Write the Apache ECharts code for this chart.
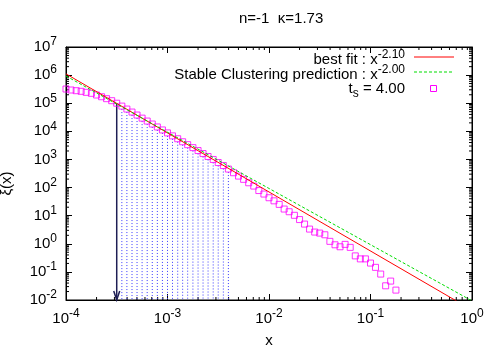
<!DOCTYPE html>
<html><head><meta charset="utf-8">
<script src="https://cdn.jsdelivr.net/npm/echarts@6/dist/echarts.min.js"></script>
<style>html,body{margin:0;padding:0;background:#fff}#c{width:500px;height:350px}</style>
</head><body><div id="c"></div>
<script>
// ---- data ----
const xVals = [
  1.00e-4,1.12e-4,1.26e-4,1.41e-4,1.58e-4,1.78e-4,2.00e-4,2.24e-4,2.51e-4,2.82e-4,
  3.16e-4,3.55e-4,3.98e-4,4.47e-4,5.01e-4,5.62e-4,6.31e-4,7.08e-4,7.94e-4,8.91e-4,
  1.00e-3,1.12e-3,1.26e-3,1.41e-3,1.58e-3,1.78e-3,2.00e-3,2.24e-3,2.51e-3,2.82e-3,
  3.16e-3,3.55e-3,3.98e-3,4.47e-3,5.01e-3,5.62e-3,6.31e-3,7.08e-3,7.94e-3,8.91e-3,
  1.00e-2,1.12e-2,1.26e-2,1.41e-2,1.58e-2,1.78e-2,2.00e-2,2.24e-2,2.51e-2,2.82e-2,
  3.16e-2,3.55e-2,3.98e-2,4.47e-2,5.01e-2,5.62e-2,6.31e-2,7.08e-2,7.94e-2,8.91e-2,
  1.00e-1,1.12e-1,1.26e-1,1.41e-1,1.58e-1,1.78e-1
];
const xiVals = [
  3.20e5,2.95e5,2.79e5,2.65e5,2.44e5,2.25e5,1.96e5,1.70e5,1.45e5,1.23e5,
  1.00e5,7.90e4,6.20e4,4.85e4,3.80e4,2.95e4,2.32e4,1.82e4,1.43e4,1.12e4,
  8.80e3,6.90e3,5.45e3,4.25e3,3.35e3,2.63e3,2.07e3,1.62e3,1.27e3,1.00e3,
  776,607,455,337,256,196,148,113,78.2,58.7,
  43.4,33.7,25.2,17.2,13.8,10.3,7.26,5.02,3.33,2.61,
  2.40,2.09,1.22,0.920,0.782,0.953,0.745,0.371,0.290,0.290,
  0.206,0.145,0.0836,0.0320,0.0471,0.0225
];
const fitExponent = -2.10, fitAmplitude = 0.0044;
const scExponent = -2.00, scAmplitude = 0.0093;
const lineX = [1e-4, 1];
const arrowIndex = 10;          // x = 3.16e-4
const dropFirst = 11, dropLast = 32;
const xRange = [1e-4, 1];
const yRange = [1e-2, 1e7];
const minorMantissas = [2,3,4,5,6,7,8,9];
const xDecades = [-4,-3,-2,-1];
const yDecades = [-2,-1,0,1,2,3,4,5,6];
const titleText = 'n=-1  \u03ba=1.73';
const legendFit = {main:'best fit : x', sup:'-2.10'};
const legendSC = {main:'Stable Clustering prediction : x', sup:'-2.00'};
const legendPts = {t:'t', sub:'s', rest:' = 4.00'};

// ---- derived ----
const points = xVals.map((x,i)=>[x, xiVals[i]]);
const fitLine = lineX.map(x=>[x, fitAmplitude*Math.pow(x, fitExponent)]);
const scLine = lineX.map(x=>[x, scAmplitude*Math.pow(x, scExponent)]);
const drops = points.slice(dropFirst, dropLast+1);
const arrowPt = [points[arrowIndex]];
const xMinor = [], yMinor = [];
xDecades.forEach(d=>minorMantissas.forEach(m=>xMinor.push([m*Math.pow(10,d), 1])));
yDecades.forEach(d=>minorMantissas.forEach(m=>yMinor.push([1e-2, m*Math.pow(10,d)])));

const FONT = 'Liberation Sans';
const RED = '#ff0000', GREEN = '#00dd00', MAG = '#ff00ff';
const rich = {
  b:{fontSize:15, fontFamily:FONT, color:'#000'},
  s:{fontSize:12, fontFamily:FONT, color:'#000', padding:[0,0,10,0]}
};
function expLabel(v){
  const e = Math.round(Math.log10(v));
  return '{b|10}{s|' + e + '}';
}

const chart = echarts.init(document.getElementById('c'), null, {renderer:'canvas'});
const axisCommon = {
  type:'log', logBase:10, interval:1,
  axisLine:{show:true, lineStyle:{color:'#000', width:1}},
  axisTick:{show:true, inside:true, length:6, lineStyle:{color:'#000'}},
  splitLine:{show:false}, minorTick:{show:false}
};
chart.setOption({
  animation:false,
  backgroundColor:'#fff',
  title:{text:titleText, left:234, top:6,
    textStyle:{fontFamily:FONT, fontSize:15, fontWeight:'normal', color:'#000'}},
  grid:{left:66, right:28, top:47, bottom:50, show:true, borderColor:'#000', borderWidth:1,
    outerBoundsMode:'none', containLabel:false},
  xAxis:[
    Object.assign({}, axisCommon, {min:xRange[0], max:xRange[1], position:'bottom',
      name:'x', nameLocation:'middle', nameGap:33,
      nameTextStyle:{fontFamily:FONT, fontSize:15, color:'#000'},
      axisLabel:{margin:8, formatter:expLabel, rich:rich}}),
    Object.assign({}, axisCommon, {min:xRange[0], max:xRange[1], position:'top',
      axisLabel:{show:false}})
  ],
  yAxis:[
    Object.assign({}, axisCommon, {min:yRange[0], max:yRange[1], position:'left',
      name:'\u03be(x)', nameLocation:'middle', nameGap:52,
      nameTextStyle:{fontFamily:FONT, fontSize:15, color:'#000', padding:[0,20,0,0]},
      axisLabel:{margin:9, formatter:expLabel, rich:rich}}),
    Object.assign({}, axisCommon, {min:yRange[0], max:yRange[1], position:'right',
      axisLabel:{show:false}})
  ],
  series:[
    {type:'custom', name:'xminor', data:xMinor, silent:true,
      renderItem:(params, api)=>{
        const x = api.coord([api.value(0), 1])[0];
        const cs = params.coordSys;
        return {type:'group', children:[
          {type:'line', shape:{x1:x,y1:cs.y+cs.height,x2:x,y2:cs.y+cs.height-3}, style:{stroke:'#000',lineWidth:1}},
          {type:'line', shape:{x1:x,y1:cs.y,x2:x,y2:cs.y+3}, style:{stroke:'#000',lineWidth:1}}
        ]};
      }},
    {type:'custom', name:'yminor', data:yMinor, silent:true,
      renderItem:(params, api)=>{
        const y = api.coord([1e-2, api.value(1)])[1];
        const cs = params.coordSys;
        return {type:'group', children:[
          {type:'line', shape:{x1:cs.x,y1:y,x2:cs.x+3,y2:y}, style:{stroke:'#000',lineWidth:1}},
          {type:'line', shape:{x1:cs.x+cs.width,y1:y,x2:cs.x+cs.width-3,y2:y}, style:{stroke:'#000',lineWidth:1}}
        ]};
      }},
    {type:'custom', name:'drops', data:drops, silent:true,
      renderItem:(params, api)=>{
        const p1 = api.coord([api.value(0), api.value(1)]);
        const p2 = api.coord([api.value(0), yRange[0]]);
        return {type:'line', shape:{x1:p1[0],y1:p1[1]+3,x2:p2[0],y2:p2[1]},
          style:{stroke:'#3a3aff', lineWidth:1, lineDash:[1,2]}};
      }},
    {type:'custom', name:'arrow', data:arrowPt, silent:true,
      renderItem:(params, api)=>{
        const p1 = api.coord([api.value(0), api.value(1)]);
        const p2 = api.coord([api.value(0), yRange[0]]);
        return {type:'group', children:[
          {type:'line', shape:{x1:p1[0],y1:p1[1],x2:p2[0],y2:p2[1]}, style:{stroke:'#1e1e55',lineWidth:1.5}},
          {type:'polyline', shape:{points:[[p2[0]-3,p2[1]-9],[p2[0],p2[1]],[p2[0]+3,p2[1]-9]]},
            style:{stroke:'#1e1e55',lineWidth:1.5, fill:'none'}}
        ]};
      }},
    {type:'line', name:'best fit', data:fitLine, showSymbol:false, symbol:'none', clip:true,
      lineStyle:{color:RED, width:1}},
    {type:'line', name:'Stable Clustering prediction', data:scLine, showSymbol:false, symbol:'none', clip:true,
      lineStyle:{color:GREEN, width:1, type:[3,2]}},
    {type:'scatter', name:'ts = 4.00', data:points, symbol:'rect', symbolSize:6,
      itemStyle:{color:'rgba(0,0,0,0)', borderColor:MAG, borderWidth:1}}
  ],
  graphic:[
    {type:'text', x:405, y:60, z:10, style:{text:'{m|'+legendFit.main+'}{s|'+legendFit.sup+'}', align:'right', verticalAlign:'middle',
      rich:{m:{fontSize:15,fontFamily:FONT,color:'#000'}, s:{fontSize:12,fontFamily:FONT,color:'#000',padding:[0,0,10,0]}}}},
    {type:'text', x:405, y:75, z:10, style:{text:'{m|'+legendSC.main+'}{s|'+legendSC.sup+'}', align:'right', verticalAlign:'middle',
      rich:{m:{fontSize:15,fontFamily:FONT,color:'#000'}, s:{fontSize:12,fontFamily:FONT,color:'#000',padding:[0,0,10,0]}}}},
    {type:'text', x:405, y:89, z:10, style:{text:'{m|'+legendPts.t+'}{u|'+legendPts.sub+'}{m|'+legendPts.rest+'}', align:'right', verticalAlign:'middle',
      rich:{m:{fontSize:15,fontFamily:FONT,color:'#000'}, u:{fontSize:12,fontFamily:FONT,color:'#000',padding:[10,0,0,0]}}}},
    {type:'polyline', z:10, shape:{points:[[414,57],[454,57]]}, style:{stroke:RED,lineWidth:1,fill:null}},
    {type:'polyline', z:10, shape:{points:[[414,72],[454,72]]}, style:{stroke:GREEN,lineWidth:1,lineDash:[3,2],fill:null}},
    {type:'rect', z:10, shape:{x:430.5,y:85.5,width:6,height:6}, style:{stroke:MAG,lineWidth:1,fill:'none'}}
  ]
});
</script></body></html>
